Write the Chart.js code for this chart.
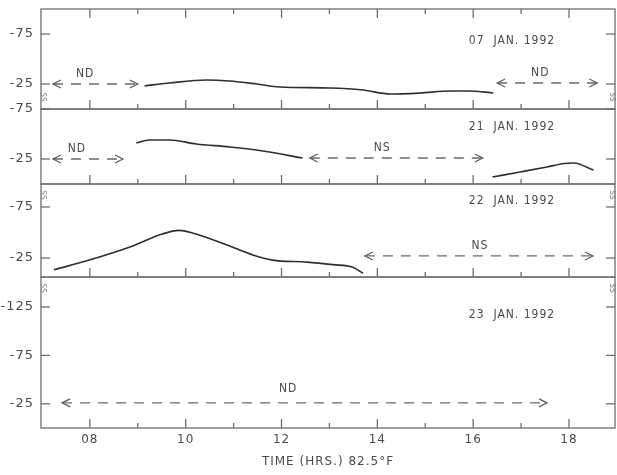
<!DOCTYPE html>
<html lang="en">
<head>
<meta charset="UTF-8">
<title>TIME (HRS.) 82.5°F</title>
<style>
  body { margin: 0; background: #fff; }
  #wrap { position: relative; width: 617px; height: 475px; }
  #wrap canvas { position: absolute; left: 0; top: 0; }
</style>
</head>
<body>
<div id="wrap">
  <canvas id="p1" width="617" height="475"></canvas>
  <canvas id="p2" width="617" height="475"></canvas>
  <canvas id="p3" width="617" height="475"></canvas>
  <canvas id="p4" width="617" height="475"></canvas>
</div>

<script src="https://cdn.jsdelivr.net/npm/chart.js"></script>
<script>
// values (hours on x, deviation on y)
const tickHours = [8, 9, 10, 11, 12, 13, 14, 15, 16, 17, 18]
const xTickHours = [8, 10, 12, 14, 16, 18]
const xTickLabels = ['08', '10', '12', '14', '16', '18']

const jan07Hours = [9.14, 9.66, 10.43, 10.91, 11.48, 11.96, 13.01, 13.7, 14.27, 14.89, 15.52, 15.93, 16.42]
const jan07Dev = [-23, -26, -29, -28, -25, -22, -21, -19, -15, -16, -18, -18, -16]

const jan21HoursA = [8.97, 9.24, 9.66, 10.22, 10.92, 11.61, 12.44]
const jan21DevA = [-41, -44, -44, -40, -37, -33, -26]
const jan21HoursB = [16.4, 16.98, 17.54, 17.9, 18.1, 18.51]
const jan21DevB = [-7, -12, -17, -20.5, -21, -14]

const jan22Hours = [7.25, 7.99, 8.88, 9.51, 9.87, 10.14, 10.85, 11.4, 11.81, 12.53, 13.07, 13.49, 13.7]
const jan22Dev = [-13.5, -23, -36.5, -48.5, -52, -49.5, -38, -28, -23, -21, -18.5, -16, -10]

// gaps with no data (ND) / no signal (NS): start hour, end hour, level
const gapStart07 = [7.23, 16.5], gapEnd07 = [9.0, 18.59], gapLevel07 = [-25, -26], gapTag07 = ['ND', 'ND']
const gapStart21 = [7.23, 12.59], gapEnd21 = [8.69, 16.2], gapLevel21 = [-25, -26], gapTag21 = ['ND', 'NS']
const gapStart22 = [13.74], gapEnd22 = [18.5], gapLevel22 = [-27], gapTag22 = ['NS']
const gapStart23 = [7.42], gapEnd23 = [17.54], gapLevel23 = [-26], gapTag23 = ['ND']

const yTicks07 = [-75, -25], yTicks21 = [-75, -25], yTicks22 = [-75, -25], yTicks23 = [-125, -75, -25]
const dates = ['07  JAN. 1992', '21  JAN. 1992', '22  JAN. 1992', '23  JAN. 1992']

const ink = '#4a4a4a'
const axisInk = '#6e6e6e'
const font = "'DejaVu Sans Condensed', 'DejaVu Sans', sans-serif"
const wideFont = "'DejaVu Sans', sans-serif"

// layout of the four stacked panels (pixels) and where the notes sit
const panels = [
  { id: 'p1', top: 9, bottom: 109, min: -100, max: 0, ticks: yTicks07, date: dates[0], dateAt: -68, topTicks: true, brk: 'bottom',
    curves: [[jan07Hours, jan07Dev]], gaps: [gapStart07, gapEnd07, gapLevel07, gapTag07], tagHours: [7.9, 17.4], rise: 10 },
  { id: 'p2', top: 109, bottom: 184, min: -75, max: 0, ticks: yTicks21, date: dates[1], dateAt: -57,
    curves: [[jan21HoursA, jan21DevA], [jan21HoursB, jan21DevB]], gaps: [gapStart21, gapEnd21, gapLevel21, gapTag21], tagHours: [7.73, 14.1], rise: 10 },
  { id: 'p3', top: 184, bottom: 277, min: -97.5, max: -6.4, ticks: yTicks22, date: dates[2], dateAt: -81, brk: 'top',
    curves: [[jan22Hours, jan22Dev]], gaps: [gapStart22, gapEnd22, gapLevel22, gapTag22], tagHours: [16.14], rise: 10 },
  { id: 'p4', top: 277, bottom: 428, min: -156, max: 0, ticks: yTicks23, date: dates[3], dateAt: -117, brk: 'top', last: true,
    curves: [], gaps: [gapStart23, gapEnd23, gapLevel23, gapTag23], tagHours: [12.14], rise: 14 }
]

function line(ctx, x1, y1, x2, y2) {
  ctx.beginPath(); ctx.moveTo(x1, y1); ctx.lineTo(x2, y2); ctx.stroke()
}

function noPad(s) {
  s.paddingTop = 0; s.paddingBottom = 0; s.paddingLeft = 0; s.paddingRight = 0
}

const framePlugin = {
  id: 'frame',
  beforeDraw(chart) {
    // the scan's lettering is widely spaced
    chart.ctx.letterSpacing = '1px'
  },
  afterDraw(chart, args, o) {
    const { ctx, chartArea: a, scales: { x, y } } = chart
    ctx.save()
    ctx.strokeStyle = axisInk
    ctx.lineWidth = 1.3
    ctx.strokeRect(a.left, a.top, a.right - a.left, a.bottom - a.top)
    o.ticks.forEach(v => {
      const py = y.getPixelForValue(v)
      line(ctx, a.left, py, a.left + 9, py)
      line(ctx, a.right, py, a.right - 9, py)
    })
    tickHours.forEach(h => {
      const px = x.getPixelForValue(h)
      const len = h % 2 === 0 ? 9 : 5
      line(ctx, px, a.bottom, px, a.bottom - len)
      if (o.topTicks) line(ctx, px, a.top, px, a.top + len)
    })
    // axis break marks
    if (o.brk) {
      const by = o.brk === 'top' ? a.top + 11 : a.bottom - 12
      ctx.fillStyle = '#8a8a8a'
      ctx.font = '10px ' + font
      ctx.letterSpacing = '0px'
      ctx.textAlign = 'center'
      ctx.textBaseline = 'middle'
      ;[a.left + 3, a.right - 2].forEach(bx => {
        ctx.save(); ctx.translate(bx, by); ctx.rotate(Math.PI / 2)
        ctx.fillText('ss', 0, 0); ctx.restore()
      })
    }
    // arrow heads on the gap lines
    ctx.strokeStyle = '#5e5e5e'
    ctx.lineWidth = 1.3
    chart.data.datasets.forEach((ds, i) => {
      if (!ds.gap) return
      const pts = chart.getDatasetMeta(i).data
      const p0 = pts[0], p1 = pts[pts.length - 1]
      ctx.beginPath()
      ctx.moveTo(p0.x + 8, p0.y - 4); ctx.lineTo(p0.x, p0.y); ctx.lineTo(p0.x + 8, p0.y + 4)
      ctx.moveTo(p1.x - 8, p1.y - 4); ctx.lineTo(p1.x, p1.y); ctx.lineTo(p1.x - 8, p1.y + 4)
      ctx.stroke()
    })
    // notes
    ctx.fillStyle = ink
    ctx.textAlign = 'center'
    ctx.textBaseline = 'middle'
    ctx.font = '12px ' + font
    ctx.letterSpacing = '1px'
    ctx.fillText(o.date, x.getPixelForValue(16.81), y.getPixelForValue(o.dateAt))
    const [st, en, lv, tg] = o.gaps
    tg.forEach((t, k) => {
      ctx.fillText(t, x.getPixelForValue(o.tagHours[k]), y.getPixelForValue(lv[k]) - o.rise)
    })
    ctx.restore()
  }
}

panels.forEach(p => {
  const datasets = []
  p.curves.forEach(([hrs, dev]) => {
    datasets.push({
      data: hrs.map((h, i) => ({ x: h, y: dev[i] })),
      borderColor: '#2f2f2f', borderWidth: 1.7, pointRadius: 0,
      cubicInterpolationMode: 'monotone'
    })
  })
  const [st, en, lv] = p.gaps
  st.forEach((s, k) => {
    datasets.push({
      gap: true,
      data: [{ x: s, y: lv[k] }, { x: en[k], y: lv[k] }],
      borderColor: '#6a6a6a', borderWidth: 1.3, borderDash: [10, 8], pointRadius: 0
    })
  })

  new Chart(document.getElementById(p.id), {
    type: 'line',
    data: { datasets },
    plugins: [framePlugin],
    options: {
      responsive: false,
      animation: false,
      devicePixelRatio: 1,
      layout: { padding: { top: p.top, bottom: p.last ? 0 : 475 - p.bottom, left: 0, right: 2 } },
      plugins: {
        legend: { display: false },
        tooltip: { enabled: false },
        frame: p
      },
      scales: {
        x: {
          type: 'linear', min: 6.98, max: 18.96,
          display: !!p.last,
          grid: { display: false, drawTicks: false },
          border: { display: false },
          afterBuildTicks: s => { s.ticks = xTickHours.map(v => ({ value: v })) },
          afterFit: s => { s.height = p.last ? 47 : 0; noPad(s) },
          ticks: {
            color: ink, padding: 5, maxRotation: 0,
            font: { family: wideFont, size: 12 },
            callback: (v, i) => xTickLabels[i]
          },
          title: {
            display: true, text: 'TIME (HRS.) 82.5°F', color: ink,
            font: { family: wideFont, size: 12 }, padding: { top: 0, bottom: 6 }
          }
        },
        y: {
          reverse: true, min: p.min, max: p.max,
          grid: { display: false, drawTicks: false },
          border: { display: false },
          afterBuildTicks: s => { s.ticks = p.ticks.map(v => ({ value: v })) },
          afterFit: s => { s.width = 41; noPad(s) },
          ticks: {
            color: ink, padding: 7,
            font: { family: wideFont, size: 13 },
            callback: v => String(v)
          }
        }
      }
    }
  })
})
</script>
</body>
</html>
